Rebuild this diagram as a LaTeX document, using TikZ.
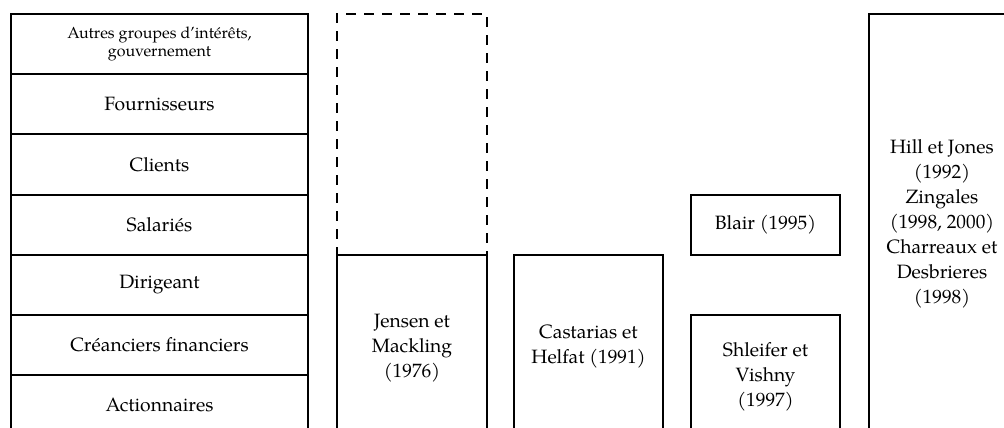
\documentclass[tikz,border=0pt]{standalone}
\usepackage{fontspec}
\setmainfont{TeX Gyre Pagella}
\newcommand\bigtxt{\fontsize{19.3}{25}\selectfont}
\newcommand\smalltxt{\fontsize{16}{18.5}\selectfont}
\tikzset{
  x=1pt, y=1pt,
  box/.style={draw, line width=2pt, anchor=north west, inner sep=0pt,
    align=center, font=\bigtxt},
  colbox/.style={box, minimum width=297pt, minimum height=60.2pt},
  dashbox/.style={box, dash pattern=on 10pt off 8pt},
  txt/.style={align=center, font=\bigtxt, inner sep=0pt}
}
\begin{document}
\begin{tikzpicture}
\path[use as bounding box] (0,0) rectangle (1004,-428);
\clip (0,0) rectangle (1004,-428);
% left column
\node[colbox, font=\smalltxt] (autres) at (10,-13) {Autres groupes d’intérêts,\\gouvernement};
\node[colbox] (fourn) at (10,-73.2) {Fournisseurs};
\node[colbox] (clients) at (10,-133.4) {Clients};
\node[colbox] (salar) at (10,-193.6) {Salariés};
\node[colbox] (dirig) at (10,-253.8) {Dirigeant};
\node[colbox] (cream) at (10,-314) {Créanciers financiers};
\node[colbox] (action) at (10,-374.2) {Actionnaires};
% Jensen column
\node[dashbox, minimum width=150pt, minimum height=240.8pt] (empty) at (336,-13) {};
\node[box, minimum width=150pt, minimum height=186pt] (jensen) at (336,-253.8) {Jensen et\\Mackling\\(1976)};
% Castarias
\node[box, minimum width=149pt, minimum height=184pt] (cast) at (513,-254) {Castarias et\\Helfat (1991)};
% Blair, Shleifer
\node[box, minimum width=149pt, minimum height=60.4pt] (blair) at (690,-193.6) {Blair (1995)};
\node[box, minimum width=149pt, minimum height=124pt] (shleifer) at (690,-314) {Shleifer et\\Vishny\\(1997)};
% right column
\node[box, minimum width=200pt, minimum height=500pt] (hill) at (868,-13) {};
\node[txt] (hilltxt) at (942,-224) {Hill et Jones\\(1992)\\Zingales\\(1998, 2000)\\Charreaux et\\Desbrieres\\(1998)};
\end{tikzpicture}
\end{document}
